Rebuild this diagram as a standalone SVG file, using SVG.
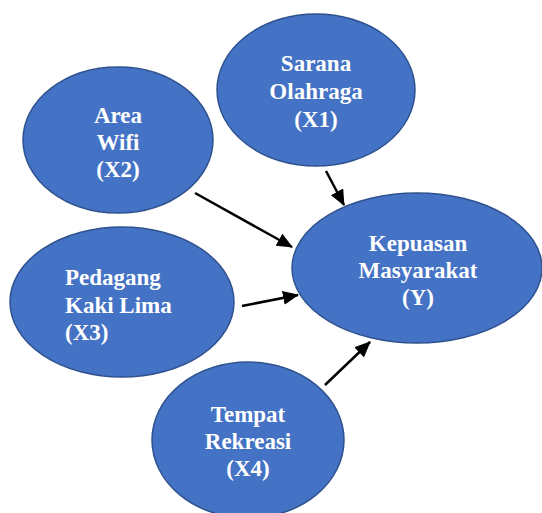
<svg xmlns="http://www.w3.org/2000/svg" width="542" height="513" viewBox="0 0 542 513">
<style>
.node ellipse{fill:#4472C4;stroke:#2F528F;stroke-width:1.5}
.node text{fill:#ffffff;font-family:"Liberation Serif","Times New Roman",serif;font-weight:bold;font-size:23px}
.edge{stroke:#000;stroke-width:2.5;fill:none;marker-end:url(#arr)}
</style>
<defs>
<marker id="arr" markerUnits="userSpaceOnUse" markerWidth="16" markerHeight="14" refX="15" refY="7" orient="auto" viewBox="0 0 16 14">
<path d="M0,0 L16,7 L0,14 Z" fill="#000"/>
</marker>
</defs>
<g id="x1" class="node">
<ellipse cx="316" cy="90" rx="99" ry="76"/>
<text x="316" y="71" text-anchor="middle">Sarana</text>
<text x="316" y="99" text-anchor="middle">Olahraga</text>
<text x="316" y="127" text-anchor="middle">(X1)</text>
</g>
<g id="x2" class="node">
<ellipse cx="118" cy="140" rx="95" ry="73"/>
<text x="118" y="123" text-anchor="middle">Area</text>
<text x="118" y="150" text-anchor="middle">Wifi</text>
<text x="118" y="177" text-anchor="middle">(X2)</text>
</g>
<g id="x3" class="node">
<ellipse cx="122" cy="302" rx="112" ry="75"/>
<text x="65" y="285">Pedagang</text>
<text x="65" y="313">Kaki Lima</text>
<text x="65" y="340">(X3)</text>
</g>
<g id="x4" class="node">
<ellipse cx="248" cy="440" rx="96" ry="78"/>
<text x="248" y="422" text-anchor="middle">Tempat</text>
<text x="248" y="449" text-anchor="middle">Rekreasi</text>
<text x="248" y="476" text-anchor="middle">(X4)</text>
</g>
<g id="y" class="node">
<ellipse cx="417" cy="268" rx="125" ry="75"/>
<text x="418" y="251" text-anchor="middle">Kepuasan</text>
<text x="418" y="278" text-anchor="middle">Masyarakat</text>
<text x="418" y="305" text-anchor="middle">(Y)</text>
</g>
<g id="connectors">
<line class="edge" x1="326" y1="171" x2="344" y2="205"/>
<line class="edge" x1="195" y1="193" x2="292" y2="247"/>
<line class="edge" x1="242" y1="306" x2="298" y2="295"/>
<line class="edge" x1="325" y1="385" x2="370" y2="342"/>
</g>
</svg>
